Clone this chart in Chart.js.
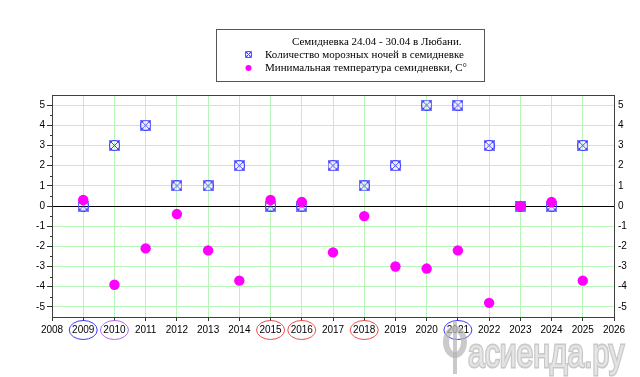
<!DOCTYPE html>
<html><head><meta charset="utf-8">
<script src="https://cdn.jsdelivr.net/npm/chart.js@4/dist/chart.umd.min.js"></script>
<style>html,body{margin:0;padding:0;background:#fff}#wrap{width:640px;height:377px;position:relative}</style>
</head><body><div id="wrap"><canvas id="c" width="640" height="377"></canvas></div>
<script>
// ---- data ----
const years = [2009,2010,2011,2012,2013,2014,2015,2016,2017,2018,2019,2020,2021,2022,2023,2024,2025];
const frostNights = [0,3,4,1,1,2,0,0,2,1,2,5,5,3,0,0,3];
const minTemps = [0.3,-3.9,-2.1,-0.4,-2.2,-3.7,0.3,0.2,-2.3,-0.5,-3.0,-3.1,-2.2,-4.8,0.0,0.2,-3.7];
const yTicks = [-5,-4,-3,-2,-1,0,1,2,3,4,5];
const legendTitle = 'Семидневка 24.04 - 30.04 в Любани.';
const seriesNames = ['Количество морозных ночей в семидневке','Минимальная температура семидневки, С°'];
const circledYears = [2009,2010,2015,2016,2018,2021];
const circledColors = ['#3b3bf0','#b266ee','#ee4b4b','#ee4b4b','#ee4b4b','#3b3bf0'];
const watermark = 'асиенда.ру';

const BLUE = '#3c3cff';
const MAG = '#ff00ff';
const GRID = '#b8f5b8';

function makeMarker(s){
  const c=document.createElement('canvas'); c.width=c.height=s;
  const g=c.getContext('2d'); g.lineWidth=1;
  g.strokeStyle='#7a7aff';
  g.strokeRect(0.5,0.5,s-1,s-1);
  g.strokeStyle=BLUE;
  g.beginPath(); g.moveTo(1,1); g.lineTo(s-1,s-1); g.moveTo(s-1,1); g.lineTo(1,s-1); g.stroke();
  g.beginPath(); g.arc(s/2,s/2,s/2-0.5,0,Math.PI*2); g.stroke();
  return c;
}
const bigMarker = makeMarker(11);
const smallMarker = makeMarker(7);

Chart.defaults.font.family = '"Liberation Sans", Arial, sans-serif';
Chart.defaults.font.size = 10;
Chart.defaults.color = '#000';

const setTicks = s => { s.ticks = yTicks.map(v => ({value: v})); };

const decor = {
  id: 'decor',
  afterDraw(chart){
    const ctx = chart.ctx, a = chart.chartArea, y = chart.scales.y, x = chart.scales.x;
    ctx.save();
    // minor ticks left axis
    ctx.strokeStyle = '#333'; ctx.lineWidth = 1;
    ctx.beginPath();
    for (let i = 0; i < yTicks.length - 1; i++) {
      const v = (yTicks[i] + yTicks[i+1]) / 2;
      const py = Math.round(y.getPixelForValue(v)) + 0.5;
      ctx.moveTo(a.left - 2, py); ctx.lineTo(a.left, py);
    }
    ctx.stroke();
    // frame
    ctx.strokeStyle = '#404040';
    ctx.strokeRect(Math.round(a.left)+0.5, Math.round(a.top)+0.5, Math.round(a.right-a.left), Math.round(a.bottom-a.top));
    // circled year labels
    ctx.lineWidth = 1;
    circledYears.forEach((yr, i) => {
      const px = x.getPixelForValue(yr);
      ctx.strokeStyle = circledColors[i];
      ctx.beginPath(); ctx.ellipse(px, 330, 14, 9.5, 0, 0, Math.PI*2); ctx.stroke();
    });
    // legend box
    ctx.fillStyle = '#fff'; ctx.fillRect(216, 29, 269, 53);
    ctx.strokeStyle = '#555'; ctx.strokeRect(216.5, 29.5, 268, 52);
    ctx.fillStyle = '#000'; ctx.textBaseline = 'middle'; ctx.textAlign = 'left';
    ctx.font = '11px "Liberation Serif", "Times New Roman", serif';
    ctx.fillText(legendTitle, 292, 42);
    ctx.drawImage(smallMarker, 245, 51);
    ctx.fillText(seriesNames[0], 265, 55);
    ctx.fillStyle = MAG; ctx.beginPath(); ctx.arc(248.5, 68, 3, 0, Math.PI*2); ctx.fill();
    ctx.fillStyle = '#000'; ctx.fillText(seriesNames[1], 265, 68);
    // watermark logo
    ctx.globalAlpha = 0.7;
    ctx.strokeStyle = '#b4b4b4'; ctx.lineWidth = 6;
    ctx.beginPath(); ctx.ellipse(455, 342, 9, 13, 0, 0, Math.PI*2); ctx.stroke();
    ctx.lineWidth = 4; ctx.beginPath(); ctx.moveTo(455, 322); ctx.lineTo(455, 374); ctx.stroke();
    // watermark text
    ctx.font = '40px "Liberation Sans Narrow", "Liberation Sans", sans-serif';
    const w = ctx.measureText(watermark).width;
    ctx.translate(468, 367); ctx.scale(156 / w, 1);
    ctx.textBaseline = 'alphabetic';
    ctx.lineWidth = 3; ctx.strokeStyle = '#b0b0b0'; ctx.strokeText(watermark, 0, 0);
    ctx.fillStyle = '#ececec'; ctx.fillText(watermark, 0, 0);
    ctx.restore();
  }
};

new Chart(document.getElementById('c'), {
  type: 'scatter',
  data: {
    datasets: [
      { label: seriesNames[0], data: years.map((yr, i) => ({x: yr, y: frostNights[i]})),
        pointStyle: bigMarker, order: 2, yAxisID: 'y' },
      { label: seriesNames[1], data: years.map((yr, i) => ({x: yr, y: minTemps[i]})),
        pointStyle: 'circle', pointRadius: 5.2, pointHoverRadius: 5.2, backgroundColor: MAG, borderColor: MAG,
        borderWidth: 0, order: 1, yAxisID: 'y' }
    ]
  },
  options: {
    responsive: false, animation: false,
    layout: { padding: { top: 95, left: 0, right: 0, bottom: 0 } },
    plugins: { legend: { display: false }, tooltip: { enabled: false } },
    scales: {
      x: { type: 'linear', min: 2008, max: 2026, position: 'bottom',
        ticks: { stepSize: 1, autoSkip: false, maxRotation: 0, padding: 3, callback: v => String(v) },
        grid: { color: GRID, tickColor: '#333', tickLength: 4 },
        border: { color: '#404040' },
        afterFit: s => { s.height = 60; } },
      y: { type: 'linear', min: -5.5, max: 5.5, position: 'left',
        afterBuildTicks: setTicks,
        ticks: { padding: 2, callback: v => String(v) },
        grid: { color: c => (c.tick && c.tick.value === 0) ? '#000' : GRID, tickColor: '#333', tickLength: 5 },
        border: { color: '#404040' },
        afterFit: s => { s.width = 52; } },
      y2: { type: 'linear', min: -5.5, max: 5.5, position: 'right',
        afterBuildTicks: setTicks,
        ticks: { padding: 4, callback: v => String(v) },
        grid: { drawOnChartArea: false, drawTicks: false },
        border: { color: '#404040' },
        afterFit: s => { s.width = 26; } }
    }
  },
  plugins: [decor]
});
</script>
</body></html>
